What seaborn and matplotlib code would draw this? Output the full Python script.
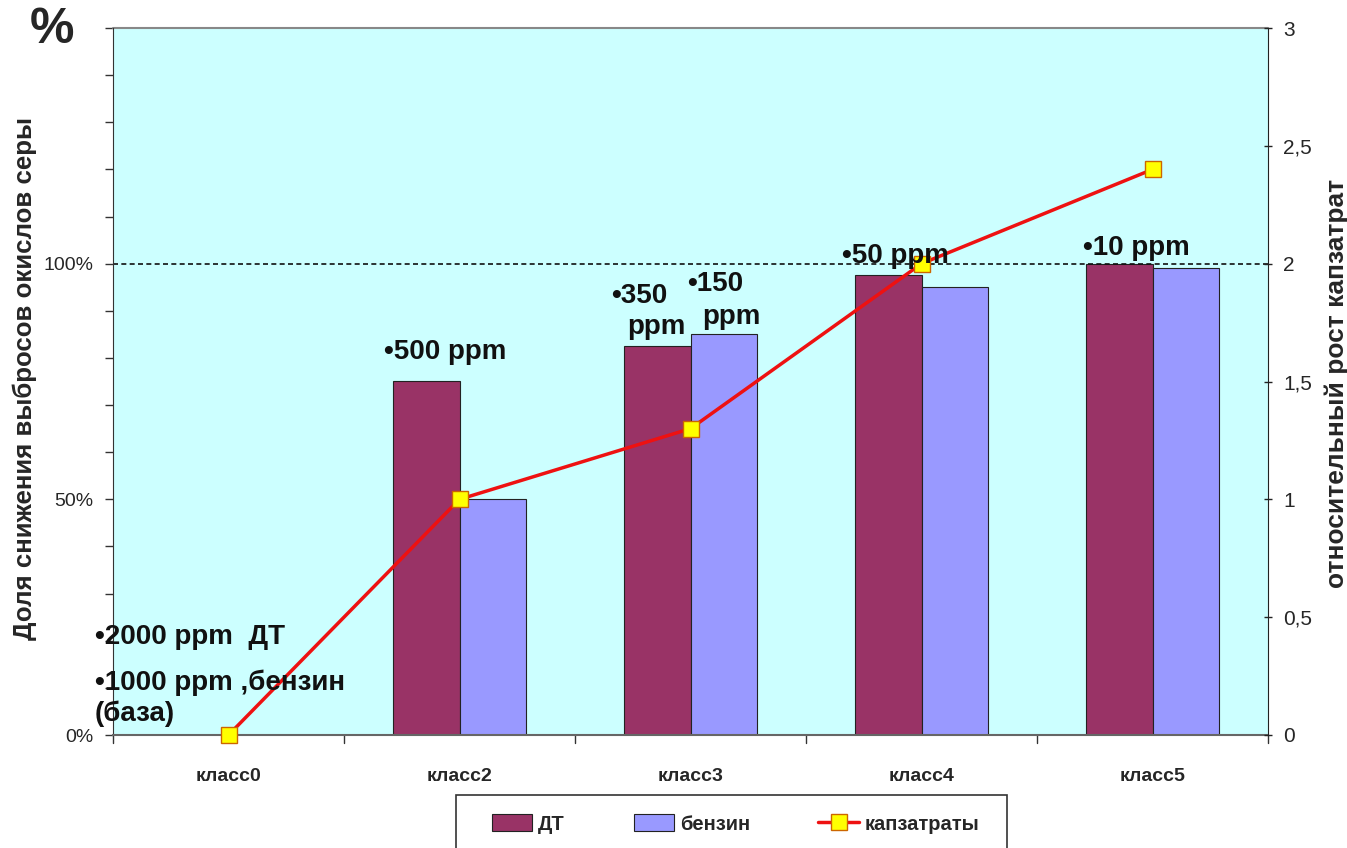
import numpy as np
import pandas as pd
import matplotlib
matplotlib.use("Agg")
import matplotlib.pyplot as plt
import seaborn as sns
from matplotlib.lines import Line2D
from matplotlib.patches import Patch, Rectangle

# Data
classes = ["класс0", "класс2", "класс3", "класс4", "класс5"]
dt_share = [0, 75, 82.5, 97.5, 100]        # % reduction, diesel (ДТ)
benzin_share = [0, 50, 85, 95, 99]         # % reduction, gasoline
capex_growth = [0, 1.0, 1.3, 2.0, 2.4]     # relative growth of capital costs
series_names = ["ДТ", "бензин"]
line_name = "капзатраты"

c_dt = "#993366"
c_bz = "#9999FF"
c_bg = "#CCFFFF"

sns.set_style("white")
plt.rcParams["font.family"] = ["Liberation Sans", "DejaVu Sans"]

df = pd.DataFrame({
    "class": classes * 2,
    "series": [series_names[0]] * len(classes) + [series_names[1]] * len(classes),
    "value": dt_share + benzin_share,
})

W, H = 1347, 848
fig = plt.figure(figsize=(W / 100, H / 100), dpi=100)
ax = fig.add_axes([113 / W, 1 - 735 / H, (1268 - 113) / W, (735 - 28) / H])
ax.set_facecolor(c_bg)

sns.barplot(data=df, x="class", y="value", hue="series", order=classes,
            hue_order=series_names, palette=[c_dt, c_bz], width=0.58,
            edgecolor="#222222", linewidth=0.8, saturation=1, legend=False, ax=ax)

ax.set_xlim(-0.5, len(classes) - 0.5)
ax.set_ylim(0, 150)
ax.set_yticks(np.arange(0, 151, 10))
ax.set_yticklabels(["0%" if v == 0 else "50%" if v == 50 else "100%" if v == 100 else ""
                    for v in range(0, 151, 10)], fontsize=14)
ax.set_xticks(np.arange(len(classes)))
ax.set_xticklabels(classes, fontsize=14, fontweight="bold")
ax.tick_params(axis="x", length=0, pad=24)
ax.tick_params(axis="y", length=6, direction="out", left=True, width=1, color="#333333",
               pad=8)
# category separator ticks on the bottom axis
for b in np.arange(-0.5, len(classes), 1.0):
    ax.plot([b, b], [0, -1.7], color="#333333", lw=1, clip_on=False)
ax.set_xlabel("")
ax.set_ylabel("")

for side in ["top", "right"]:
    ax.spines[side].set_visible(False)
ax.spines["left"].set_color("#333333")
ax.spines["bottom"].set_color("#666666")
ax.spines["bottom"].set_linewidth(1.5)

# reference level at 100 %
ax.axhline(100, color="#111111", lw=1.2, ls=(0, (3, 2)), zorder=1.5)

# capital cost growth on the secondary axis
ax2 = ax.twinx()
sns.lineplot(x=np.arange(len(classes)), y=capex_growth, ax=ax2, color="#EE1111",
             lw=2.5, marker="s", markersize=12, markerfacecolor="#FFFF00",
             markeredgecolor="#CC6600", markeredgewidth=1, zorder=5, clip_on=False)
ax2.set_ylim(0, 3)
ax2.set_yticks(np.arange(0, 3.01, 0.5))
ax2.set_yticklabels(["0", "0,5", "1", "1,5", "2", "2,5", "3"], fontsize=15)
ax2.tick_params(axis="y", length=6, direction="inout", right=True, width=1,
                color="#222222", pad=8)
for side in ["top", "left", "bottom"]:
    ax2.spines[side].set_visible(False)
ax2.spines["right"].set_color("#222222")
ax2.set_xlim(-0.5, len(classes) - 0.5)
ax.plot([-0.5, 4.5], [150, 150], color="#888888", lw=1.5, clip_on=False)

# axis titles
fig.text(25 / W, 1 - 378 / H, "Доля снижения выбросов окислов серы", rotation=90,
         ha="center", va="center", fontsize=18.6, fontweight="bold")
fig.text(1337 / W, 1 - 383 / H, "относительный рост капзатрат", rotation=90,
         ha="center", va="center", fontsize=19, fontweight="bold")
fig.text(52 / W, 1 - 30 / H, "%", ha="center", va="center", fontsize=36,
         fontweight="bold")

# sulfur content annotations
afont = dict(fontsize=20, fontweight="bold", family=["Liberation Sans", "DejaVu Sans"],
             color="#111111")
notes = [
    (95, 637, "•2000 ppm  ДТ"),
    (95, 683, "•1000 ppm ,бензин"),
    (95, 714, "(база)"),
    (384, 352, "•500 ppm"),
    (611, 296, "•350"),
    (627, 327, "ppm"),
    (687, 284, "•150"),
    (702, 317, "ppm"),
    (842, 256, "•50 ppm"),
    (1083, 248, "•10 ppm"),
]
for x, y, t in notes:
    fig.text(x / W, 1 - y / H, t, ha="left", va="center", **afont)

# legend with a separate frame box
fig.patches.append(Rectangle((456 / W, 1 - 870 / H), (1007 - 456) / W, (870 - 795) / H,
                             transform=fig.transFigure, facecolor="white",
                             edgecolor="#333333", lw=1.2, zorder=1))
handles = [
    Patch(facecolor=c_dt, edgecolor="#222222", lw=0.8),
    Patch(facecolor=c_bz, edgecolor="#222222", lw=0.8),
    Line2D([0], [0], color="#EE1111", lw=2.5, marker="s", markersize=12,
           markerfacecolor="#FFFF00", markeredgecolor="#CC6600"),
]
leg = fig.legend(handles, series_names + [line_name], loc="center left",
                 bbox_to_anchor=(492 / W, 1 - 824 / H), ncol=3,
                 frameon=False, borderpad=0, columnspacing=3.4, handlelength=2.0,
                 handleheight=0.9, handletextpad=0.3, borderaxespad=0,
                 prop=dict(size=14.5, weight="bold"))
leg.set_zorder(2)

fig.savefig("out.png", dpi=100, facecolor="white")
